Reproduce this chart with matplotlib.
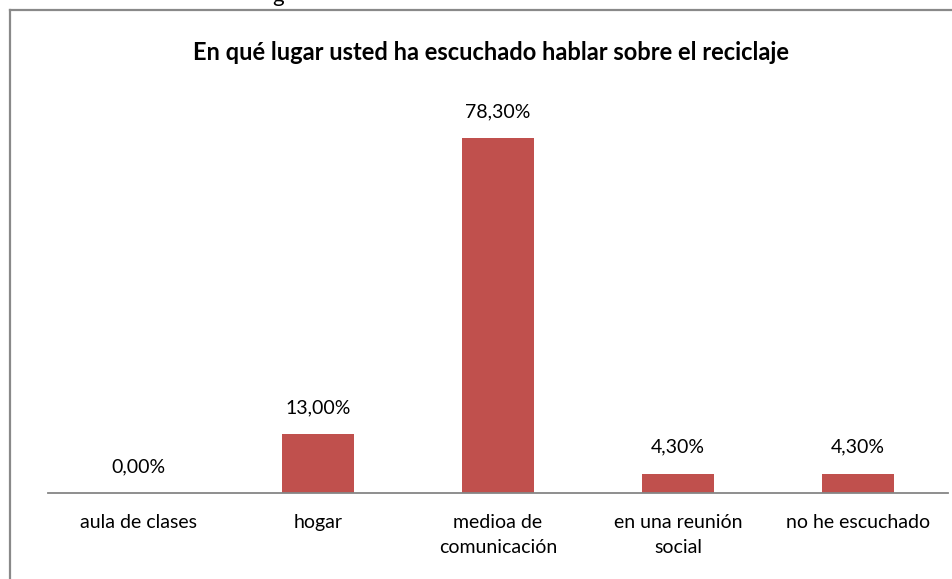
import matplotlib
matplotlib.use("Agg")
import matplotlib.pyplot as plt
from matplotlib.lines import Line2D

categories = ["aula de clases", "hogar", "medioa de\ncomunicación", "en una reunión\nsocial", "no he escuchado"]
values = [0.0, 13.0, 78.3, 4.3, 4.3]
value_labels = ["0,00%", "13,00%", "78,30%", "4,30%", "4,30%"]
title = "En qué lugar usted ha escuchado hablar sobre el reciclaje"

W, H = 953, 579
fig = plt.figure(figsize=(W / 100, H / 100), dpi=100)
plt.rcParams['font.family'] = ['Lato', 'DejaVu Sans']

# axes: baseline y=493, left x=48, right x=948
ax_left, ax_right = 48, 948
ax_bottom, ax_top = 493, 85
ax = fig.add_axes([ax_left / W, 1 - ax_bottom / H, (ax_right - ax_left) / W, (ax_bottom - ax_top) / H])
x = list(range(len(categories)))
ax.bar(x, values, width=0.4, color="#C0504D")
ax.set_xlim(-0.5, len(categories) - 0.5)
ax.set_ylim(0, 90)
ax.set_yticks([])
ax.set_xticks(x)
ax.set_xticklabels(categories, fontsize=14, color="#000000", linespacing=1.6)
ax.tick_params(axis="x", length=0, pad=15)
for s in ["top", "right", "left"]:
    ax.spines[s].set_visible(False)
ax.spines["bottom"].set_color("#868686")
ax.spines["bottom"].set_linewidth(1.3)
for xi, v, lab in zip(x, values, value_labels):
    ax.annotate(lab, (xi, v), xytext=(0, 19), textcoords="offset points",
                ha="center", va="center", fontsize=14, color="#000000")

fig.text(491 / W, 1 - 52 / H, title, ha="center", va="center",
         fontsize=17, fontweight="bold", color="#000000")

# chart frame (left and top edges visible)
fig.add_artist(Line2D([10 / W, 10 / W], [0, 1 - 10 / H], transform=fig.transFigure,
                      color="#898989", linewidth=1.6))
fig.add_artist(Line2D([10 / W, 1], [1 - 10 / H, 1 - 10 / H], transform=fig.transFigure,
                      color="#898989", linewidth=1.6))
# clipped text remnant from the page above
fig.text(278 / W, 1 - 2 / H, "g", ha="center", va="baseline", fontsize=16, color="#000000")

fig.savefig("out.png", dpi=100)
